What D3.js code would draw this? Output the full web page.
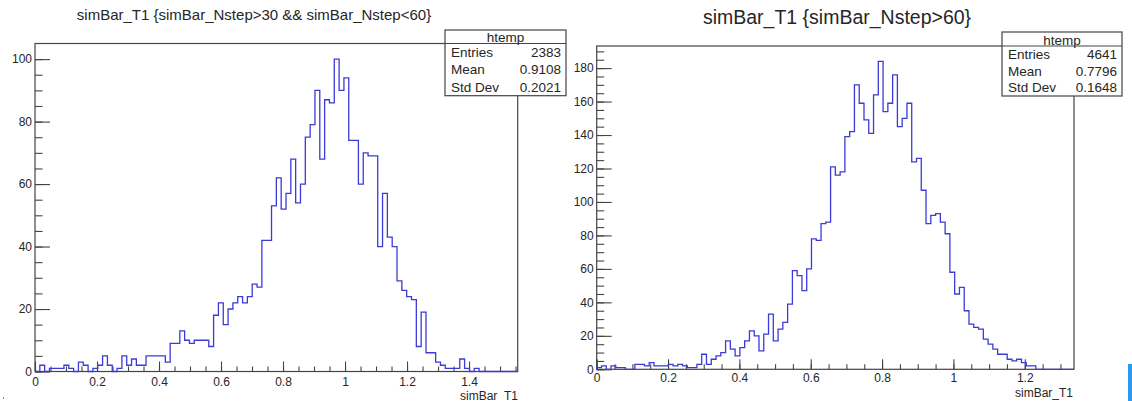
<!DOCTYPE html>
<html>
<head>
<meta charset="utf-8">
<script src="https://cdnjs.cloudflare.com/ajax/libs/d3/7.8.5/d3.min.js"></script>
<style>
  body { margin: 0; background: #fff; }
  svg { display: block; font-family: "Liberation Sans", Arial, sans-serif; }
</style>
</head>
<body>
<svg id="chart" width="1132" height="401"></svg>
<script>
// bin contents, 100 equal bins starting at 0
var countsLow = [0,2,0,1,1,1,2,1,0,3, 2,0,1,2,5,2,0,1,5,2,
                 4,2,2,5,5,5,5,3,9,9, 13,10,9,10,10,10,8,18,22,15,
                 20,22,24,22,24,28,27,42,42,53, 62,52,57,68,54,60,75,79,90,68,
                 87,86,100,90,94,74,74,60,70,69, 69,40,57,43,40,29,26,24,23,8,
                 19,6,6,3,2,1,1,1,4,1, 0,1,0,0,0,0,0,0,0,0];
var countsHigh = [1,2,0,2,1,1,0,0,3,3, 2,4,2,2,2,3,2,3,2,1,
                  1,3,9,3,6,8,10,17,12,8, 13,17,23,20,11,21,33,17,24,28,
                  39,59,56,47,60,78,77,87,88,121, 116,118,139,142,170,159,149,141,164,184,
                  154,159,176,145,150,159,124,126,107,87, 92,93,88,81,58,45,49,35,27,25,
                  24,18,15,12,9,9,6,5,6,4, 2,2,0,0,0,0,0,0,0,0];
var xMaxLow = 1.557;
var xMaxHigh = 1.338;

var titles = ["simBar_T1 {simBar_Nstep>30 && simBar_Nstep<60}", "simBar_T1 {simBar_Nstep>60}"];
var statNames = ["Entries", "Mean", "Std Dev"];
var statsLow = ["2383", "0.9108", "0.2021"];
var statsHigh = ["4641", "0.7796", "0.1648"];
var boxName = "htemp";
var axisTitle = "simBar_T1";

var svg = d3.select("#chart");
var lineCol = "#444", textCol = "#262626", histCol = "#3b3bd8";

var panels = [
  { counts: countsLow, xMax: xMaxLow, title: titles[0], stats: statsLow,
    frame: { x0: 35, x1: 517.7, y0: 43.5, y1: 371.5 },
    titleX: 254, titleY: 15, titleSize: 15,
    labelPad: 6,
    box: { x0: 445, x1: 566, y0: 30, y1: 95.7 },
    axTitleX: 518, axTitleY: 399.5 },
  { counts: countsHigh, xMax: xMaxHigh, title: titles[1], stats: statsHigh,
    frame: { x0: 596.7, x1: 1074, y0: 46, y1: 369.3 },
    titleX: 837, titleY: 17, titleSize: 19.5,
    labelPad: 4.5,
    box: { x0: 1002, x1: 1122, y0: 32, y1: 96 },
    axTitleX: 1073, axTitleY: 396.5 }
];

panels.forEach(drawPanel);

function drawPanel(p) {
  var f = p.frame;
  var n = p.counts.length;
  var binW = p.xMax / n;
  var yTop = d3.max(p.counts) * 1.05;

  var x = d3.scaleLinear().domain([0, p.xMax]).range([f.x0, f.x1]);
  var y = d3.scaleLinear().domain([0, yTop]).range([f.y1, f.y0]);

  var g = svg.append("g");

  // frame
  g.append("rect")
    .attr("x", f.x0).attr("y", f.y0)
    .attr("width", f.x1 - f.x0).attr("height", f.y1 - f.y0)
    .attr("fill", "none").attr("stroke", lineCol).attr("stroke-width", 1.2);

  // x axis: major + minor ticks pointing up
  var xMajor = d3.range(0, p.xMax + 1e-9, 0.2);
  var xMinor = d3.range(0, p.xMax + 1e-9, 0.05);
  g.append("g")
    .attr("transform", "translate(0," + f.y1 + ")")
    .call(d3.axisBottom(x).tickValues(xMinor).tickSize(-5).tickFormat(""))
    .call(s => s.select(".domain").remove());
  g.append("g")
    .attr("transform", "translate(0," + f.y1 + ")")
    .call(d3.axisBottom(x).tickValues(xMajor).tickSize(-10).tickPadding(p.labelPad)
      .tickFormat(d => +d.toFixed(1) + ""))
    .call(s => s.select(".domain").remove())
    .call(s => s.selectAll("text").attr("font-size", 12).attr("fill", textCol)
      .attr("font-family", "Liberation Sans, Arial, sans-serif"));

  // y axis
  var yMajor = d3.range(0, yTop, 20);
  var yMinor = d3.range(0, yTop, 5);
  g.append("g")
    .attr("transform", "translate(" + f.x0 + ",0)")
    .call(d3.axisLeft(y).tickValues(yMinor).tickSize(-7.5).tickFormat(""))
    .call(s => s.select(".domain").remove());
  g.append("g")
    .attr("transform", "translate(" + f.x0 + ",0)")
    .call(d3.axisLeft(y).tickValues(yMajor).tickSize(-15).tickPadding(3))
    .call(s => s.select(".domain").remove())
    .call(s => s.selectAll("text").attr("font-size", 12).attr("fill", textCol)
      .attr("font-family", "Liberation Sans, Arial, sans-serif"));

  g.selectAll(".tick line").attr("stroke", lineCol).attr("stroke-width", 1.1);

  // histogram outline
  var pts = [{ x: 0, c: 0 }];
  p.counts.forEach((c, i) => pts.push({ x: i * binW, c: c }));
  pts.push({ x: n * binW, c: 0 });
  var line = d3.line()
    .x(d => x(d.x))
    .y(d => y(d.c))
    .curve(d3.curveStepAfter);
  g.append("path")
    .datum(pts)
    .attr("d", line)
    .attr("fill", "none")
    .attr("stroke", histCol)
    .attr("stroke-width", 1.3);

  // title
  g.append("text")
    .attr("x", p.titleX).attr("y", p.titleY)
    .attr("dy", "0.35em")
    .attr("text-anchor", "middle")
    .attr("font-size", p.titleSize)
    .attr("fill", textCol)
    .text(p.title);

  // x axis title
  g.append("text")
    .attr("x", p.axTitleX).attr("y", p.axTitleY)
    .attr("text-anchor", "end")
    .attr("font-size", 12)
    .attr("fill", textCol)
    .text(axisTitle);

  // stats box
  var b = p.box;
  var headB = f.y0;
  var bg = g.append("g");
  bg.append("rect")
    .attr("x", b.x0).attr("y", b.y0)
    .attr("width", b.x1 - b.x0).attr("height", b.y1 - b.y0)
    .attr("fill", "#fff").attr("stroke", lineCol).attr("stroke-width", 1.2);
  bg.append("line")
    .attr("x1", b.x0).attr("x2", b.x1)
    .attr("y1", headB).attr("y2", headB)
    .attr("stroke", lineCol).attr("stroke-width", 1.2);
  bg.append("text")
    .attr("x", (b.x0 + b.x1) / 2).attr("y", (b.y0 + headB) / 2 + 1)
    .attr("dy", "0.35em").attr("text-anchor", "middle")
    .attr("font-size", 13.5).attr("fill", textCol)
    .text(boxName);
  var rowH = (b.y1 - headB) / 3;
  statNames.forEach((name, i) => {
    var cy = headB + rowH * (i + 0.5);
    bg.append("text")
      .attr("x", b.x0 + 6).attr("y", cy).attr("dy", "0.35em")
      .attr("font-size", 13.5).attr("fill", textCol)
      .text(name);
    bg.append("text")
      .attr("x", b.x1 - 5).attr("y", cy).attr("dy", "0.35em")
      .attr("text-anchor", "end")
      .attr("font-size", 13.5).attr("fill", textCol)
      .text(p.stats[i]);
  });
}

// screenshot edge artefacts
svg.append("rect").attr("x", 1128).attr("y", 364).attr("width", 4).attr("height", 37)
  .attr("fill", "#2a9af0");
svg.append("rect").attr("x", 3).attr("y", 397).attr("width", 1).attr("height", 2)
  .attr("fill", "#888");
</script>
</body>
</html>
